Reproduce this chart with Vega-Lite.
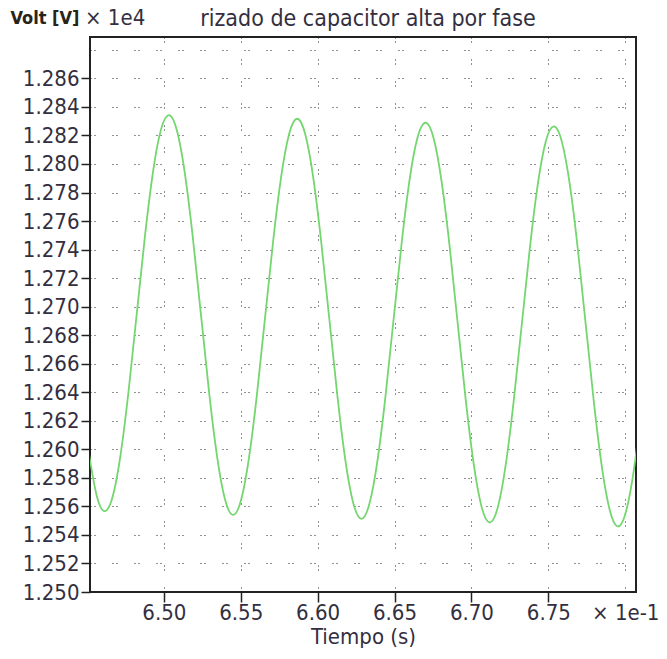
{
  "$schema": "https://vega.github.io/schema/vega-lite/v6.json",
  "autosize": "none",
  "width": 546,
  "height": 555,
  "padding": {"left": 90, "top": 37, "right": 31, "bottom": 67},
  "background": "white",
  "title": {
    "text": "rizado de capacitor alta por fase",
    "frame": "group",
    "anchor": "middle",
    "dx": 5,
    "dy": 57,
    "offset": 10,
    "baseline": "bottom",
    "font": "DejaVu Sans Condensed",
    "fontSize": 23,
    "fontWeight": "normal",
    "color": "#332f40"
  },
  "config": {
    "view": {"stroke": "#222222", "strokeWidth": 2},
    "axis": {
      "labelFont": "DejaVu Sans Condensed",
      "labelFontSize": 22,
      "labelColor": "#332f40",
      "labelOverlap": false,
      "titleFont": "DejaVu Sans Condensed",
      "titleFontSize": 22,
      "titleFontWeight": "normal",
      "titleColor": "#332f40",
      "domain": false,
      "tickColor": "#222222",
      "tickWidth": 1.5,
      "tickSize": 9,
      "gridColor": "#222222",
      "gridWidth": 1,
      "gridOpacity": 1,
      "gridDash": [1, 3, 1, 17]
    }
  },
  "data": {
    "values": [
      {"t": 6.45116, "v": 1.25979},
      {"t": 6.45637, "v": 1.25675},
      {"t": 6.46158, "v": 1.25567},
      {"t": 6.46680, "v": 1.25671},
      {"t": 6.47201, "v": 1.25972},
      {"t": 6.47723, "v": 1.26423},
      {"t": 6.48244, "v": 1.26955},
      {"t": 6.48766, "v": 1.27487},
      {"t": 6.49287, "v": 1.27938},
      {"t": 6.49809, "v": 1.28239},
      {"t": 6.50330, "v": 1.28343},
      {"t": 6.50851, "v": 1.28235},
      {"t": 6.51373, "v": 1.27931},
      {"t": 6.51894, "v": 1.27477},
      {"t": 6.52416, "v": 1.26942},
      {"t": 6.52937, "v": 1.26406},
      {"t": 6.53459, "v": 1.25952},
      {"t": 6.53980, "v": 1.25648},
      {"t": 6.54502, "v": 1.25540},
      {"t": 6.55023, "v": 1.25645},
      {"t": 6.55544, "v": 1.25945},
      {"t": 6.56066, "v": 1.26396},
      {"t": 6.56587, "v": 1.26928},
      {"t": 6.57109, "v": 1.27460},
      {"t": 6.57630, "v": 1.27911},
      {"t": 6.58152, "v": 1.28212},
      {"t": 6.58673, "v": 1.28317},
      {"t": 6.59195, "v": 1.28209},
      {"t": 6.59716, "v": 1.27905},
      {"t": 6.60237, "v": 1.27450},
      {"t": 6.60759, "v": 1.26915},
      {"t": 6.61280, "v": 1.26380},
      {"t": 6.61802, "v": 1.25925},
      {"t": 6.62323, "v": 1.25621},
      {"t": 6.62845, "v": 1.25513},
      {"t": 6.63366, "v": 1.25618},
      {"t": 6.63888, "v": 1.25919},
      {"t": 6.64409, "v": 1.26370},
      {"t": 6.64930, "v": 1.26902},
      {"t": 6.65452, "v": 1.27434},
      {"t": 6.65973, "v": 1.27885},
      {"t": 6.66495, "v": 1.28185},
      {"t": 6.67016, "v": 1.28290},
      {"t": 6.67538, "v": 1.28182},
      {"t": 6.68059, "v": 1.27878},
      {"t": 6.68581, "v": 1.27424},
      {"t": 6.69102, "v": 1.26888},
      {"t": 6.69623, "v": 1.26353},
      {"t": 6.70145, "v": 1.25899},
      {"t": 6.70666, "v": 1.25595},
      {"t": 6.71188, "v": 1.25487},
      {"t": 6.71709, "v": 1.25591},
      {"t": 6.72231, "v": 1.25892},
      {"t": 6.72752, "v": 1.26343},
      {"t": 6.73274, "v": 1.26875},
      {"t": 6.73795, "v": 1.27407},
      {"t": 6.74316, "v": 1.27858},
      {"t": 6.74838, "v": 1.28159},
      {"t": 6.75359, "v": 1.28263},
      {"t": 6.75881, "v": 1.28155},
      {"t": 6.76402, "v": 1.27851},
      {"t": 6.76924, "v": 1.27397},
      {"t": 6.77445, "v": 1.26862},
      {"t": 6.77967, "v": 1.26326},
      {"t": 6.78488, "v": 1.25872},
      {"t": 6.79009, "v": 1.25568},
      {"t": 6.79531, "v": 1.25460},
      {"t": 6.80052, "v": 1.25565},
      {"t": 6.80574, "v": 1.25865},
      {"t": 6.81095, "v": 1.26316}
    ]
  },
  "layer": [
    {
      "mark": {"type": "line", "color": "#74d66e", "strokeWidth": 1.8, "interpolate": "natural", "clip": true},
      "encoding": {
        "x": {
          "field": "t",
          "type": "quantitative",
          "scale": {"domain": [6.452, 6.807], "nice": false, "zero": false},
          "axis": {
            "title": "Tiempo (s)",
            "values": [6.5, 6.55, 6.6, 6.65, 6.7, 6.75, 6.8],
            "tickCount": 40,
            "labelExpr": "datum.value > 6.79 ? '× 1e-1' : format(datum.value, '.2f')",
            "tickOpacity": {"condition": {"test": "datum.value > 6.79", "value": 0}, "value": 1},
            "tickSize": 10,
            "labelOverlap": false,
            "labelPadding": 0,
            "titlePadding": 3
          }
        },
        "y": {
          "field": "v",
          "type": "quantitative",
          "scale": {"domain": [1.25, 1.2889], "nice": false, "zero": false},
          "axis": {
            "title": "Volt [V]",
            "titleFontWeight": "bold",
            "titleFontSize": 18,
            "titleColor": "#2a2418",
            "titleAngle": 0,
            "titleAlign": "left",
            "titleBaseline": "middle",
            "titleX": -80,
            "titleY": -19,
            "values": [1.25, 1.252, 1.254, 1.256, 1.258, 1.26, 1.262, 1.264, 1.266, 1.268, 1.27, 1.272, 1.274, 1.276, 1.278, 1.28, 1.282, 1.284, 1.286, 1.288],
            "tickCount": 40,
            "labelExpr": "datum.value > 1.2875 ? '' : format(datum.value, '.3f')",
            "tickOpacity": {"condition": {"test": "datum.value > 1.2875", "value": 0}, "value": 1},
            "labelOverlap": false,
            "labelFlush": false,
            "labelPadding": 2
          }
        }
      }
    },
    {
      "data": {"values": [{"t": 6.452, "v": 1.2889, "label": "× 1e4"}]},
      "mark": {"type": "text", "align": "left", "baseline": "middle", "dx": -5, "dy": -19, "font": "DejaVu Sans Condensed", "fontSize": 22, "color": "#332f40", "clip": false},
      "encoding": {
        "x": {"field": "t", "type": "quantitative"},
        "y": {"field": "v", "type": "quantitative"},
        "text": {"field": "label"}
      }
    }
  ]
}
